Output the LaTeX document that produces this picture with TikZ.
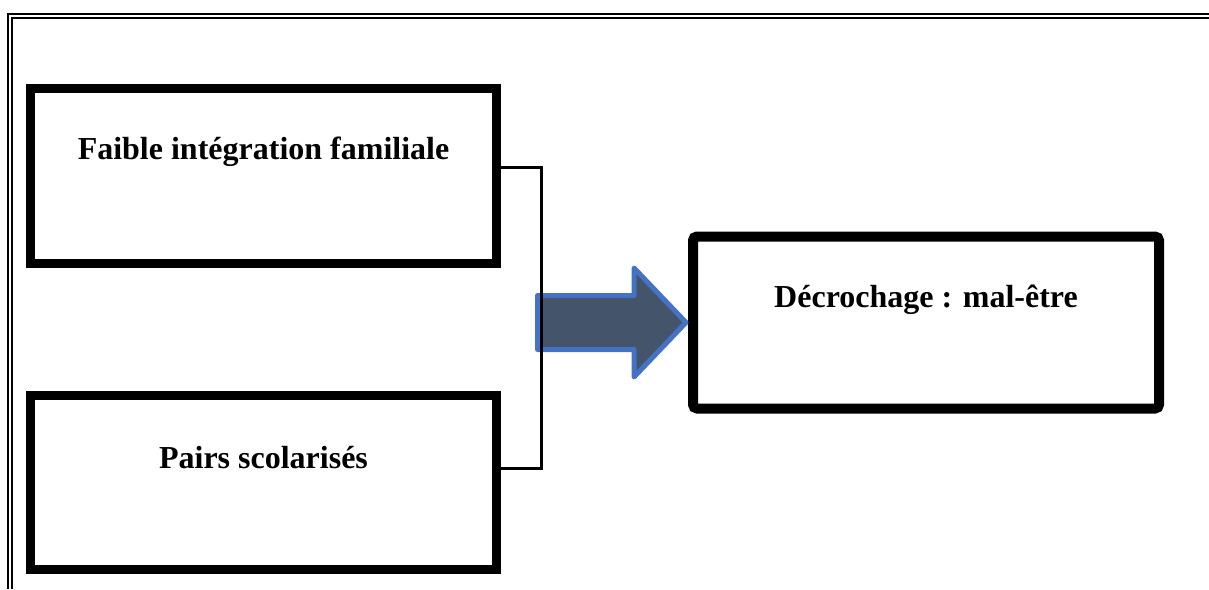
\documentclass[tikz,border=0pt]{standalone}
\usepackage{fontspec}
\setmainfont{Liberation Serif}
\begin{document}
\begin{tikzpicture}[x=0.5pt,y=-0.5pt,
  boxnode/.style={draw=black, line width=4.5pt, rectangle, minimum width=233pt, inner sep=0pt, outer sep=0pt},
  lbl/.style={font=\fontsize{16pt}{19pt}\selectfont\bfseries, inner sep=0pt},
  frameline/.style={line width=1pt},
  conn/.style={line width=1.5pt},
  bigarrow/.style={draw={rgb,255:red,68;green,114;blue,196}, fill={rgb,255:red,68;green,84;blue,106}, line width=2.5pt, line join=round}]
\useasboundingbox (0,0) rectangle (1209,589);
% page frame (double line)
\draw[frameline] (8,589) -- (8,14) -- (1209,14);
\draw[frameline] (12,589) -- (12,18) -- (1209,18);
% boxes
\node[boxnode, minimum height=87.5pt] (b1) at (263.5,176) {};
\node[boxnode, minimum height=86.75pt] (b2) at (263.5,482.25) {};
\node[boxnode, line width=5pt, minimum height=86pt, rounded corners=2pt] (b3) at (926,322.5) {};
\node[lbl] (t1) at ([yshift=12pt]b1.center) {Faible intégration familiale};
\node[lbl] (t2) at ([yshift=12.5pt]b2.center) {Pairs scolarisés};
\node[lbl] (t3) at ([yshift=11.5pt]b3.center) {Décrochage : mal-être};
% big arrow
\coordinate (tip) at ([xshift=-3.5pt]b3.west);
\draw[bigarrow] (537.5,295.5) -- (634,295.5) -- (634,268) -- (tip) -- (634,377) -- (634,349.5) -- (537.5,349.5) -- cycle;
% connector
\draw[conn] ([yshift=4.5pt]b1.east) -| ([xshift=22.5pt,yshift=7.125pt]b2.east) -- ([yshift=7.125pt]b2.east);
\end{tikzpicture}
\end{document}
